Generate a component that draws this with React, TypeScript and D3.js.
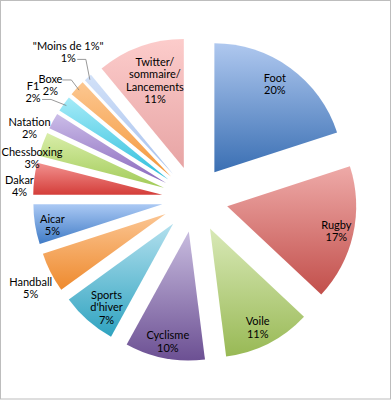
import * as d3 from "d3";

// slice names and shares (percent), clockwise from 12 o'clock
const categories = [
  "Foot",
  "Rugby",
  "Voile",
  "Cyclisme",
  "Sports d'hiver",
  "Handball",
  "Aicar",
  "Dakar",
  "Chessboxing",
  "Natation",
  "F1",
  "Boxe",
  "\"Moins de 1%\"",
  "Twitter/ sommaire/ Lancements",
];
const shares = [20, 17, 11, 10, 7, 5, 5, 4, 3, 2, 2, 2, 1, 11];
const labelLines = [
  ["Foot"],
  ["Rugby"],
  ["Voile"],
  ["Cyclisme"],
  ["Sports", "d'hiver"],
  ["Handball"],
  ["Aicar"],
  ["Dakar"],
  ["Chessboxing"],
  ["Natation"],
  ["F1"],
  ["Boxe"],
  ["\"Moins de 1%\""],
  ["Twitter/", "sommaire/", "Lancements"],
];

// gradient top / bottom colours per slice
const topColors = [
  "#afc8ef", "#eeaaa8", "#d9e9b7", "#c8bcdf", "#b3e0ee", "#fbc592", "#abc9f4",
  "#f29290", "#d9eeaa", "#cbbde8", "#a6ebf8", "#fcc790", "#d2e1f8", "#fccccb",
];
const bottomColors = [
  "#3a6fb3", "#c24f4b", "#98b955", "#6c5093", "#2fa3c0", "#ee8a2e", "#3f7bc6",
  "#d43d39", "#a2cb58", "#8a69bd", "#2ebfdc", "#f4973b", "#a8c2ee", "#e7a4a4",
];

// label placement: angle tweak (deg) and distance from the pie centre
const labelSpots: Record<string, [number, number]> = {
  Foot: [-1.2, 140],
  Rugby: [0.2, 145],
  Voile: [1, 143],
  Cyclisme: [0, 145],
  "Sports d'hiver": [-2.2, 140],
  Handball: [-1.5, 187],
  Aicar: [-1.3, 145],
  Dakar: [-3, 176],
  Chessboxing: [-5.7, 168],
  Natation: [-5.6, 180],
  F1: [-2.6, 194],
  Boxe: [-5, 184],
  "\"Moins de 1%\"": [0.6, 194],
  "Twitter/ sommaire/ Lancements": [1.1, 125],
};
// leader lines: which line to start from and how far right of centre
const leaders: Record<string, [number, number]> = {
  F1: [1, 9],
  Boxe: [0, 12],
  "\"Moins de 1%\"": [1, 9],
};

const W = 392;
const H = 400;
const cx = 195;
const cy = 199;
const R = 129;
const explode = 33;
const lh = 12.5;

const pie = d3
  .pie<number>()
  .sort(null)
  .value((d) => d)
  .startAngle(0)
  .endAngle(2 * Math.PI);
const arcs = pie(shares);
const arcGen = d3.arc<d3.PieArcDatum<number>>().innerRadius(0).outerRadius(R);

function App() {
  return (
    <svg
      width={W}
      height={H}
      style={{ position: "absolute", left: 0, top: 0, background: "#fff" }}
      fontFamily="Lato, 'Open Sans', sans-serif"
      fontSize={11}
    >
      <defs>
        {arcs.map((a, i) => (
          <linearGradient key={i} id={`g${i}`} x1="0" y1="0" x2="0" y2="1">
            <stop offset="0%" stopColor={topColors[i]} />
            <stop offset="100%" stopColor={bottomColors[i]} />
          </linearGradient>
        ))}
      </defs>
      <rect x={0.5} y={0.5} width={W - 2} height={H - 1.5} fill="#fff" stroke="#bdbdbd" />
      <g transform={`translate(${cx},${cy})`}>
        {arcs.map((a, i) => {
          const mid = (a.startAngle + a.endAngle) / 2;
          const ox = Math.sin(mid) * explode;
          const oy = -Math.cos(mid) * explode;
          return (
            <path
              key={i}
              d={arcGen(a) ?? ""}
              transform={`translate(${ox},${oy})`}
              fill={`url(#g${i})`}
            />
          );
        })}
        {arcs.map((a, i) => {
          const name = categories[i];
          const lead = leaders[name];
          if (!lead) return null;
          const [da, r] = labelSpots[name];
          const mid = (a.startAngle + a.endAngle) / 2;
          const ang = mid + (da * Math.PI) / 180;
          const lx = Math.sin(ang) * r;
          const ly = -Math.cos(ang) * r;
          const n = labelLines[i].length + 1;
          const sy = ly - ((n - 1) * lh) / 2 + lead[0] * lh + 1;
          const sx = lx + lead[1];
          const ex = Math.sin(mid) * (explode + R - 3);
          const ey = -Math.cos(mid) * (explode + R - 3);
          const kx = Math.min(sx + 9, ex - 4);
          return (
            <polyline
              key={i}
              points={`${sx},${sy} ${kx},${sy} ${ex},${ey}`}
              fill="none"
              stroke="#7f7f7f"
              strokeWidth={0.8}
            />
          );
        })}
        {arcs.map((a, i) => {
          const name = categories[i];
          const [da, r] = labelSpots[name];
          const mid = (a.startAngle + a.endAngle) / 2 + (da * Math.PI) / 180;
          const lx = Math.sin(mid) * r;
          const ly = -Math.cos(mid) * r;
          const lines = [...labelLines[i], `${shares[i]}%`];
          const y0 = ly - ((lines.length - 1) * lh) / 2;
          return (
            <text key={i} textAnchor="middle" fill="#000">
              {lines.map((t, j) => (
                <tspan key={j} x={lx} y={y0 + j * lh} dy="0.35em">
                  {t}
                </tspan>
              ))}
            </text>
          );
        })}
      </g>
    </svg>
  );
}

export default App;
